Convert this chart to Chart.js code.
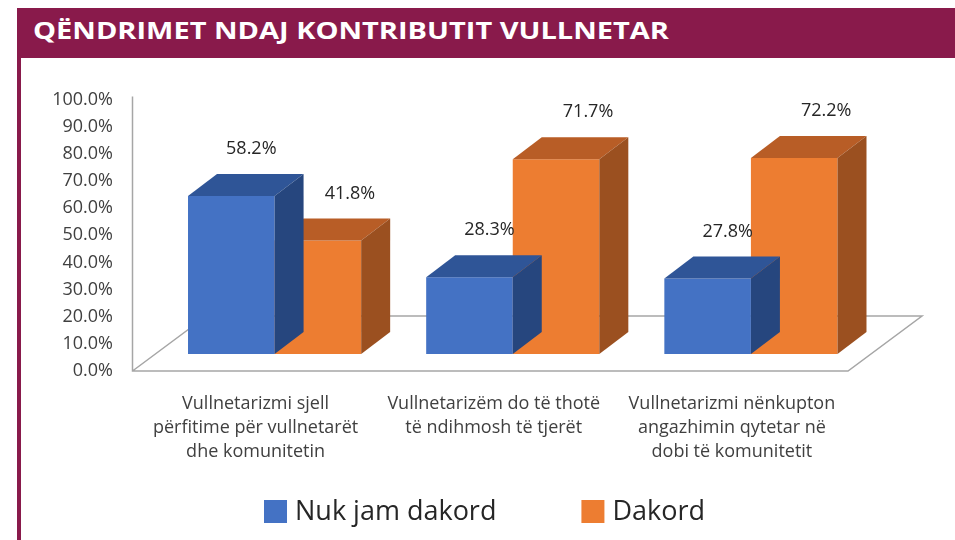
<!DOCTYPE html>
<html>
<head>
<meta charset="utf-8">
<script src="https://cdn.jsdelivr.net/npm/chart.js@4"></script>
<style>
  html, body { margin: 0; padding: 0; background: #fff; }
  #wrap { position: relative; width: 955px; height: 540px; overflow: hidden; }
  #chart { position: absolute; left: 0; top: 0; }
  #band { position: absolute; left: 17px; top: 8px; width: 938px; height: 50px; background: #891A4B; }
  #border { position: absolute; left: 17px; top: 8px; width: 4px; height: 532px; background: #891A4B; }
  #title { position: absolute; left: 33px; top: 8px; height: 44px; line-height: 44px; color: #fff;
           font-family: "Open Sans", sans-serif; font-weight: 700; font-size: 24px; white-space: nowrap;
           transform-origin: left center; }
</style>
</head>
<body>
<div id="wrap">
  <canvas id="chart" width="955" height="540"></canvas>
  <div id="band"></div>
  <div id="border"></div>
  <div id="title">QËNDRIMET NDAJ KONTRIBUTIT VULLNETAR</div>
</div>
<script>
// ---- data ----
const categories = [
  ["Vullnetarizmi sjell", "përfitime për vullnetarët", "dhe komunitetin"],
  ["Vullnetarizëm do të thotë", "të ndihmosh të tjerët"],
  ["Vullnetarizmi nënkupton", "angazhimin qytetar në", "dobi të komunitetit"]
];
const seriesNames = ["Nuk jam dakord", "Dakord"];
const nukJamDakord = [58.2, 28.3, 27.8];
const dakord = [41.8, 71.7, 72.2];
const yTickValues = [0, 10, 20, 30, 40, 50, 60, 70, 80, 90, 100];

// ---- title fit ----
(function () {
  const t = document.getElementById('title');
  const w = t.getBoundingClientRect().width;
  const target = 636;
  if (w > 0) t.style.transform = 'scaleX(' + (target / w) + ')';
})();

Chart.defaults.font.family = '"Open Sans", sans-serif';

const FACE = [
  { front: '#4472C4', top: '#2F5597', side: '#26467E' },
  { front: '#ED7D31', top: '#B85D26', side: '#9B5020' }
];
const BAR_DX = 29, BAR_DY = 22;
const FLOOR_DX = 74, FLOOR_DY = 55;

const floorPlugin = {
  id: 'floor3d',
  beforeDatasetsDraw(chart) {
    const ctx = chart.ctx, ys = chart.scales.y, ca = chart.chartArea;
    const y0 = ys.getPixelForValue(0);
    const yTop = ys.getPixelForValue(100) - 3;
    const fl = ca.left - 23, fr = ca.right - 22;
    ctx.save();
    ctx.strokeStyle = '#A6A6A6';
    ctx.lineWidth = 1.5;
    ctx.beginPath();
    ctx.moveTo(fl, yTop);
    ctx.lineTo(fl, y0);
    ctx.lineTo(fr, y0);
    ctx.lineTo(fr + FLOOR_DX, y0 - FLOOR_DY);
    ctx.lineTo(fl + FLOOR_DX, y0 - FLOOR_DY);
    ctx.lineTo(fl, y0);
    ctx.stroke();
    ctx.restore();
  }
};

const barFacesPlugin = {
  id: 'barFaces',
  afterDatasetDraw(chart, args) {
    const ctx = chart.ctx;
    const c = FACE[args.index];
    args.meta.data.forEach(bar => {
      const p = bar.getProps(['x', 'y', 'base', 'width'], true);
      const l = p.x - p.width / 2, r = p.x + p.width / 2;
      ctx.save();
      ctx.fillStyle = c.top;
      ctx.beginPath();
      ctx.moveTo(l, p.y);
      ctx.lineTo(l + BAR_DX, p.y - BAR_DY);
      ctx.lineTo(r + BAR_DX, p.y - BAR_DY);
      ctx.lineTo(r, p.y);
      ctx.closePath();
      ctx.fill();
      ctx.fillStyle = c.side;
      ctx.beginPath();
      ctx.moveTo(r, p.y);
      ctx.lineTo(r + BAR_DX, p.y - BAR_DY);
      ctx.lineTo(r + BAR_DX, p.base - BAR_DY);
      ctx.lineTo(r, p.base);
      ctx.closePath();
      ctx.fill();
      ctx.restore();
    });
  }
};

const LABEL_DX = [20, 32];
const valueLabelPlugin = {
  id: 'valueLabels',
  afterDatasetsDraw(chart) {
    const ctx = chart.ctx;
    ctx.save();
    ctx.font = '500 18px "Open Sans", sans-serif';
    ctx.fillStyle = '#262626';
    ctx.textAlign = 'center';
    ctx.textBaseline = 'middle';
    chart.data.datasets.forEach((ds, di) => {
      const meta = chart.getDatasetMeta(di);
      meta.data.forEach((bar, i) => {
        const v = ds.data[i];
        ctx.fillText(v.toFixed(1) + '%', bar.x + LABEL_DX[di], bar.y - 47);
      });
    });
    ctx.restore();
  }
};

// legend drawn from the chart's datasets (Excel-like spacing)
const legendPlugin = {
  id: 'bottomLegend',
  afterDraw(chart) {
    const ctx = chart.ctx;
    const box = 23, gapText = 8, gapItem = 85, centerX = 484.5, midY = 512;
    ctx.save();
    ctx.font = '500 27px "Open Sans", sans-serif';
    ctx.textBaseline = 'middle';
    ctx.textAlign = 'left';
    const items = chart.data.datasets.map(ds => ({ text: ds.label, color: ds.backgroundColor, w: ctx.measureText(ds.label).width }));
    let total = 0;
    items.forEach((it, i) => { total += box + gapText + it.w + (i < items.length - 1 ? gapItem : 0); });
    let x = centerX - total / 2;
    items.forEach(it => {
      ctx.fillStyle = it.color;
      ctx.fillRect(x, midY - 12, box, box);
      ctx.fillStyle = '#262626';
      ctx.fillText(it.text, x + box + gapText, midY);
      x += box + gapText + it.w + gapItem;
    });
    ctx.restore();
  }
};

new Chart(document.getElementById('chart'), {
  type: 'bar',
  data: {
    labels: categories,
    datasets: [
      { label: seriesNames[0], data: nukJamDakord, backgroundColor: FACE[0].front, borderWidth: 0, yAxisID: 'y2' },
      { label: seriesNames[1], data: dakord, backgroundColor: FACE[1].front, borderWidth: 0, yAxisID: 'y2' }
    ]
  },
  options: {
    responsive: false,
    devicePixelRatio: 1,
    animation: false,
    categoryPercentage: 0.727,
    barPercentage: 1,
    layout: { padding: { left: 14, right: 0, top: 99.5, bottom: 59 } },
    plugins: {
      tooltip: { enabled: false },
      legend: { display: false }
    },
    scales: {
      x: {
        grid: { display: false, drawTicks: false },
        border: { display: false },
        ticks: {
          color: '#404040',
          font: { size: 18, lineHeight: 1.333 },
          padding: 21,
          labelOffset: -19,
          maxRotation: 0,
          autoSkip: false
        },
        afterFit(s) { s.height = 110; }
      },
      y: {
        position: 'left',
        min: 0, max: 100,
        afterBuildTicks(s) { s.ticks = yTickValues.map(v => ({ value: v })); },
        grid: { display: false, drawTicks: false },
        border: { display: false },
        ticks: {
          color: '#404040',
          font: { size: 18 },
          padding: 42.5,
          callback: v => v.toFixed(1) + '%'
        },
        afterFit(s) { s.width = 141.5; }
      },
      y2: {
        position: 'right',
        display: true,
        min: -6.25, max: 93.75,
        grid: { display: false, drawTicks: false },
        border: { display: false },
        ticks: { display: false },
        afterFit(s) { s.width = 85; }
      }
    }
  },
  plugins: [floorPlugin, barFacesPlugin, valueLabelPlugin, legendPlugin]
});
</script>
</body>
</html>
